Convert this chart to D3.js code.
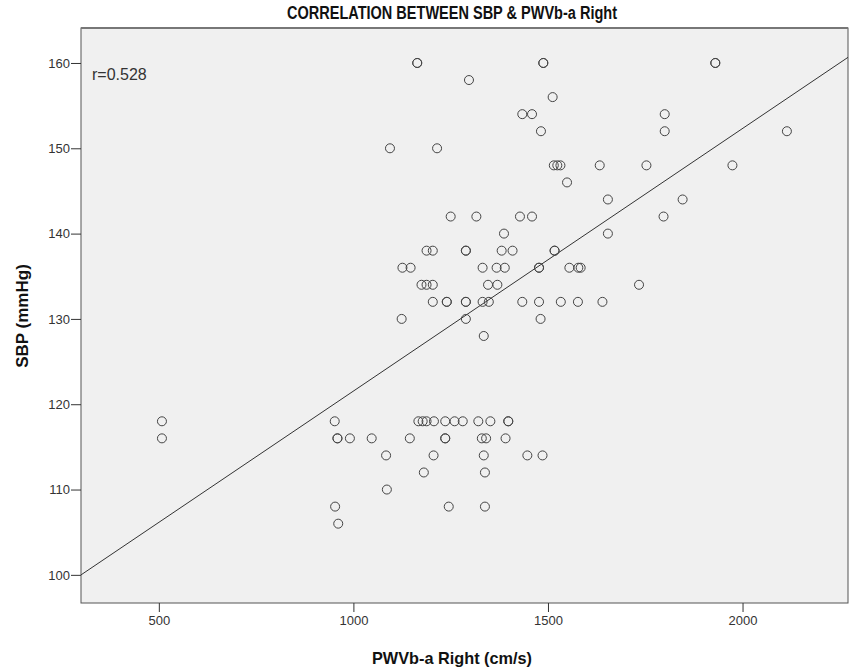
<!DOCTYPE html>
<html>
<head>
<meta charset="utf-8">
<script src="https://cdn.jsdelivr.net/npm/d3@7"></script>
<style>
  body { margin: 0; background: #fff; }
  text { font-family: "Liberation Sans", Arial, sans-serif; }
</style>
</head>
<body>
<div id="chart"></div>
<script>
// values, grouped by SBP row
const sbpRows = [160, 158, 156, 154, 152, 150, 148, 146, 144, 142, 140, 138, 136, 134, 132, 130, 128, 118, 116, 114, 112, 110, 108, 106];
const pwvByRow = [
  [1164, 1164, 1488, 1488, 1930, 1930],
  [1297],
  [1512],
  [1434, 1459, 1800],
  [1482, 1800, 2114],
  [1094, 1215],
  [1515, 1524, 1532, 1633, 1753, 1974],
  [1549],
  [1654, 1846],
  [1250, 1316, 1428, 1459, 1797],
  [1387, 1654],
  [1188, 1204, 1289, 1289, 1381, 1409, 1517, 1517],
  [1126, 1147, 1332, 1368, 1389, 1477, 1477, 1555, 1578, 1584],
  [1175, 1188, 1204, 1346, 1370, 1734],
  [1204, 1240, 1240, 1289, 1289, 1332, 1348, 1434, 1477, 1533, 1577, 1640],
  [1124, 1289, 1481],
  [1335],
  [508, 952, 1167, 1178, 1188, 1207, 1236, 1260, 1281, 1321, 1352, 1398, 1398],
  [508, 959, 959, 991, 1047, 1145, 1236, 1236, 1330, 1341, 1391],
  [1084, 1206, 1335, 1447, 1486],
  [1181, 1338],
  [1086],
  [953, 1245, 1338],
  [961]
];
const xTicks = [500, 1000, 1500, 2000];
const yTicks = [100, 110, 120, 130, 140, 150, 160];
const fitIntercept = 90.76;
const fitSlope = 0.03078;
const rLabel = "r=0.528";

var points = [];
sbpRows.forEach(function (s, i) {
  pwvByRow[i].forEach(function (p) { points.push({ pwv: p, sbp: s }); });
});

var width = 851, height = 672;
var plot = { left: 81, right: 848, top: 28, bottom: 603 };

var svg = d3.select("#chart")
  .append("svg")
  .attr("width", width)
  .attr("height", height);

var x = d3.scaleLinear()
  .domain([300, 2271])
  .range([plot.left, plot.right]);

var y = d3.scaleLinear()
  .domain([96.7, 164.1])
  .range([plot.bottom, plot.top]);

svg.append("rect")
  .attr("x", plot.left)
  .attr("y", plot.top)
  .attr("width", plot.right - plot.left)
  .attr("height", plot.bottom - plot.top)
  .attr("fill", "#f0f0f0")
  .attr("stroke", "#555")
  .attr("stroke-width", 1);

svg.append("line")
  .attr("x1", plot.left).attr("x2", plot.right)
  .attr("y1", plot.top).attr("y2", plot.top)
  .attr("stroke", "#777").attr("stroke-width", 2);

var xAxis = svg.append("g")
  .attr("transform", "translate(0," + plot.bottom + ")")
  .call(d3.axisBottom(x).tickValues(xTicks).tickFormat(d3.format("d"))
    .tickSize(9).tickPadding(4).tickSizeOuter(0));
xAxis.select(".domain").remove();
xAxis.selectAll("line").attr("stroke", "#333");
xAxis.selectAll("text")
  .attr("font-size", 13)
  .attr("fill", "#333")
  .attr("font-family", "Liberation Sans, Arial, sans-serif");

var yAxis = svg.append("g")
  .attr("transform", "translate(" + plot.left + ",0)")
  .call(d3.axisLeft(y).tickValues(yTicks).tickSize(10).tickPadding(1).tickSizeOuter(0));
yAxis.select(".domain").remove();
yAxis.selectAll("line").attr("stroke", "#333");
yAxis.selectAll("text")
  .attr("font-size", 13)
  .attr("fill", "#333")
  .attr("font-family", "Liberation Sans, Arial, sans-serif");

// fit line
svg.append("clipPath").attr("id", "plotclip")
  .append("rect")
  .attr("x", plot.left).attr("y", plot.top)
  .attr("width", plot.right - plot.left)
  .attr("height", plot.bottom - plot.top);

var xd = x.domain();
svg.append("line")
  .attr("clip-path", "url(#plotclip)")
  .attr("x1", x(xd[0]))
  .attr("y1", y(fitIntercept + fitSlope * xd[0]))
  .attr("x2", x(xd[1]))
  .attr("y2", y(fitIntercept + fitSlope * xd[1]))
  .attr("stroke", "#333")
  .attr("stroke-width", 1);

svg.selectAll("circle.pt")
  .data(points)
  .enter()
  .append("circle")
  .attr("class", "pt")
  .attr("cx", function (d) { return x(d.pwv); })
  .attr("cy", function (d) { return y(d.sbp); })
  .attr("r", 4.5)
  .attr("fill", "none")
  .attr("stroke", "#444")
  .attr("stroke-width", 1);

svg.append("text")
  .attr("x", plot.left + 11)
  .attr("y", 80)
  .attr("font-size", 16)
  .attr("fill", "#333")
  .text(rLabel);

// SPSS export looks horizontally squeezed, so titles get a fixed length
svg.append("text")
  .attr("x", 452)
  .attr("y", 19)
  .attr("text-anchor", "middle")
  .attr("font-size", 18)
  .attr("font-weight", "bold")
  .attr("textLength", 330)
  .attr("lengthAdjust", "spacingAndGlyphs")
  .attr("fill", "#111")
  .text("CORRELATION BETWEEN SBP & PWVb-a Right");

svg.append("text")
  .attr("x", 452)
  .attr("y", 664)
  .attr("text-anchor", "middle")
  .attr("font-size", 17)
  .attr("font-weight", "bold")
  .attr("textLength", 160)
  .attr("lengthAdjust", "spacingAndGlyphs")
  .attr("fill", "#111")
  .text("PWVb-a Right (cm/s)");

svg.append("text")
  .attr("transform", "rotate(-90)")
  .attr("x", -316)
  .attr("y", 28)
  .attr("text-anchor", "middle")
  .attr("font-size", 17)
  .attr("font-weight", "bold")
  .attr("fill", "#111")
  .text("SBP (mmHg)");
</script>
</body>
</html>
